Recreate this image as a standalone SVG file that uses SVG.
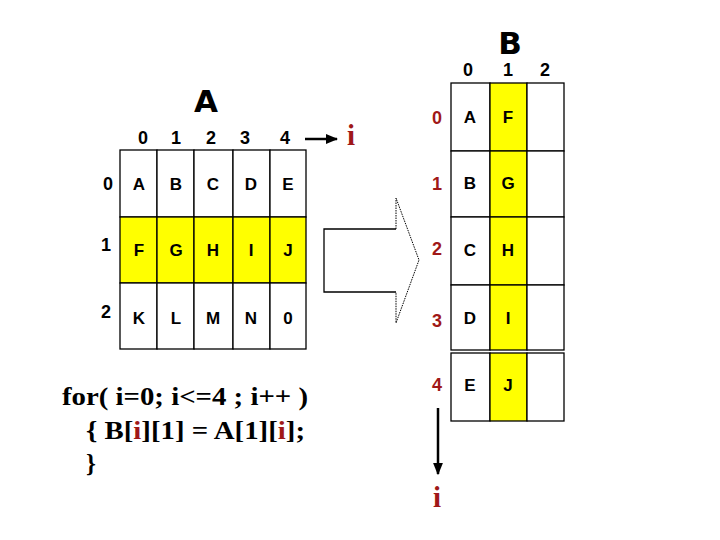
<svg xmlns="http://www.w3.org/2000/svg" width="720" height="540" viewBox="0 0 720 540">
<defs>
<style>
.cell{fill:#fff;stroke:#000;stroke-width:1.3}
.hl{fill:#ffff00;stroke:#000;stroke-width:1.3}
.t{font-family:"Liberation Sans",Arial,sans-serif;font-weight:bold;font-size:17px;text-anchor:middle;fill:#000}
.idx{font-family:"Liberation Sans Narrow","Liberation Sans",Arial,sans-serif;font-weight:bold;font-size:18px;text-anchor:middle;fill:#000}
.ridx{font-family:"Liberation Sans Narrow","Liberation Sans",Arial,sans-serif;font-weight:bold;font-size:18px;text-anchor:middle;fill:#a01818}
.title{font-family:"DejaVu Sans","Liberation Sans",sans-serif;font-weight:900;font-size:31px;text-anchor:middle;fill:#000}
.code{font-family:"Liberation Serif","Times New Roman",serif;font-weight:bold;font-size:25px;fill:#000}
.red{fill:#a01818}
.ivar{font-family:"Liberation Serif","Times New Roman",serif;font-weight:bold;font-size:29px;text-anchor:middle;fill:#a01818}
.ln{stroke:#000;stroke-width:2.5;fill:none}
</style>
<marker id="ah" viewBox="0 0 10 10" refX="9" refY="5" markerWidth="5" markerHeight="5" orient="auto">
<path d="M0,1 L10,5 L0,9 z" fill="#000"/>
</marker>
</defs>

<g id="arrayA">
<text class="title" x="206" y="112">A</text>
<g class="idx">
<text x="143" y="144">0</text><text x="176" y="144">1</text><text x="211" y="144">2</text><text x="245" y="144">3</text><text x="285" y="144">4</text>
<text x="108" y="190">0</text><text x="106" y="251">1</text><text x="106" y="318">2</text>
</g>
<rect class="cell" x="120" y="150" width="37" height="67"/>
<rect class="cell" x="157" y="150" width="37" height="67"/>
<rect class="cell" x="194" y="150" width="39" height="67"/>
<rect class="cell" x="233" y="150" width="37" height="67"/>
<rect class="cell" x="270" y="150" width="36" height="67"/>
<rect class="hl" x="120" y="217" width="37" height="66"/>
<rect class="hl" x="157" y="217" width="37" height="66"/>
<rect class="hl" x="194" y="217" width="39" height="66"/>
<rect class="hl" x="233" y="217" width="37" height="66"/>
<rect class="hl" x="270" y="217" width="36" height="66"/>
<rect class="cell" x="120" y="283" width="37" height="66"/>
<rect class="cell" x="157" y="283" width="37" height="66"/>
<rect class="cell" x="194" y="283" width="39" height="66"/>
<rect class="cell" x="233" y="283" width="37" height="66"/>
<rect class="cell" x="270" y="283" width="36" height="66"/>
<g class="t">
<text x="139" y="190">A</text><text x="176" y="190">B</text><text x="213" y="190">C</text><text x="251" y="190">D</text><text x="288" y="190">E</text>
<text x="139" y="256">F</text><text x="176" y="256">G</text><text x="213" y="256">H</text><text x="251" y="256">I</text><text x="288" y="256">J</text>
<text x="139" y="324">K</text><text x="176" y="324">L</text><text x="213" y="324">M</text><text x="251" y="324">N</text><text x="288" y="324">0</text>
</g>
</g>

<g id="arrayB">
<text class="title" x="510" y="54">B</text>
<g class="idx">
<text x="468" y="76">0</text><text x="508" y="76">1</text><text x="545" y="76">2</text>
</g>
<g class="ridx">
<text x="437" y="124">0</text><text x="437" y="190">1</text><text x="437" y="255">2</text><text x="437" y="327">3</text><text x="437" y="391">4</text>
</g>
<rect class="cell" x="451" y="83" width="39" height="68"/>
<rect class="hl" x="490" y="83" width="37" height="68"/>
<rect class="cell" x="527" y="83" width="37" height="68"/>
<rect class="cell" x="451" y="151" width="39" height="66"/>
<rect class="hl" x="490" y="151" width="37" height="66"/>
<rect class="cell" x="527" y="151" width="37" height="66"/>
<rect class="cell" x="451" y="217" width="39" height="68"/>
<rect class="hl" x="490" y="217" width="37" height="68"/>
<rect class="cell" x="527" y="217" width="37" height="68"/>
<rect class="cell" x="451" y="285" width="39" height="65"/>
<rect class="hl" x="490" y="285" width="37" height="65"/>
<rect class="cell" x="527" y="285" width="37" height="65"/>
<rect class="cell" x="451" y="353" width="39" height="68"/>
<rect class="hl" x="490" y="353" width="37" height="68"/>
<rect class="cell" x="527" y="353" width="37" height="68"/>
<g class="t">
<text x="470" y="123">A</text><text x="508" y="123">F</text>
<text x="470" y="189">B</text><text x="508" y="189">G</text>
<text x="470" y="256">C</text><text x="508" y="256">H</text>
<text x="470" y="324">D</text><text x="508" y="324">I</text>
<text x="470" y="391">E</text><text x="508" y="391">J</text>
</g>
</g>

<g id="labels">
<text class="ivar" x="351" y="145">i</text>
<text class="ivar" x="437" y="507">i</text>
</g>

<g id="bigArrow">
<path d="M396,229 L324,229 L324,292 L396,292" fill="none" stroke="#000" stroke-width="1.3"/>
<path d="M396,229 L396,198 L419,260 L396,323 L396,292" fill="none" stroke="#000" stroke-width="1" stroke-dasharray="1.5,1"/>
</g>

<g id="connectors">
<line class="ln" x1="305" y1="139" x2="337" y2="139" marker-end="url(#ah)"/>
<line class="ln" x1="438" y1="408" x2="438" y2="474" marker-end="url(#ah)"/>
</g>

<g id="code">
<text class="code" x="62" y="405" textLength="246" lengthAdjust="spacingAndGlyphs">for( i=0; i&lt;=4 ; i++ )</text>
<text class="code" x="86" y="439" textLength="219" lengthAdjust="spacingAndGlyphs">{ B[<tspan class="red">i</tspan>][1] = A[1][<tspan class="red">i</tspan>];</text>
<text class="code" x="86" y="472">}</text>
</g>
</svg>
